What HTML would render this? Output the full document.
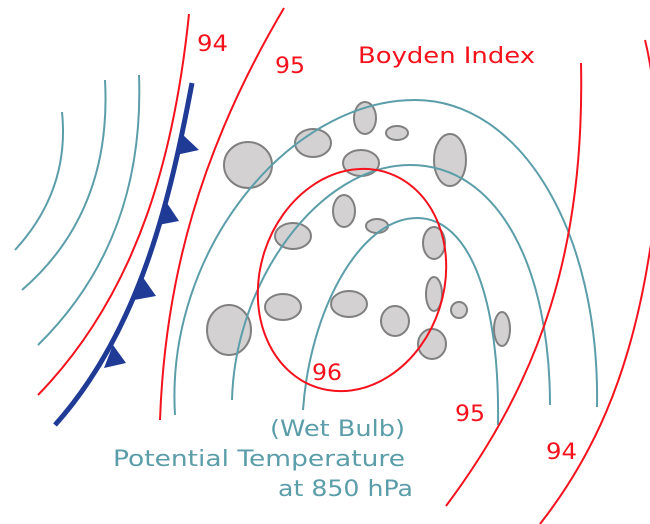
<!DOCTYPE html>
<html><head><meta charset="utf-8"><style>
html,body{margin:0;padding:0;background:#fff;}
svg{display:block;}
text{font-family:"DejaVu Sans","Liberation Sans",sans-serif;}
</style></head><body>
<svg width="650" height="524" viewBox="0 0 650 524" xmlns="http://www.w3.org/2000/svg">
<g fill="none" stroke="#5b9ea9" stroke-width="2">
<path d="M62,112 Q70,190 15,250"/>
<path d="M105,80 C110,170 80,240 22,290"/>
<path d="M139,75 Q145,240 38,345"/>
</g>
<g fill="#d3d1d2" stroke="#808080" stroke-width="2">
<ellipse cx="248" cy="165" rx="24" ry="23"/>
<ellipse cx="313" cy="143" rx="18" ry="14"/>
<ellipse cx="365" cy="118" rx="11" ry="16"/>
<ellipse cx="397" cy="133" rx="11" ry="7"/>
<ellipse cx="361" cy="163" rx="18" ry="13"/>
<ellipse cx="450" cy="160" rx="16" ry="26"/>
<ellipse cx="344" cy="211" rx="11" ry="16"/>
<ellipse cx="377" cy="226" rx="11" ry="7"/>
<ellipse cx="293" cy="236" rx="18" ry="13"/>
<ellipse cx="434" cy="243" rx="11" ry="16"/>
<ellipse cx="283" cy="307" rx="18" ry="13"/>
<ellipse cx="349" cy="304" rx="18" ry="13"/>
<ellipse cx="395" cy="321" rx="14" ry="15"/>
<ellipse cx="434" cy="294" rx="8" ry="17"/>
<ellipse cx="459" cy="310" rx="8" ry="8"/>
<ellipse cx="502" cy="329" rx="8" ry="17"/>
<ellipse cx="229" cy="330" rx="22" ry="25"/>
<ellipse cx="432" cy="344" rx="14" ry="15"/>
</g>
<g fill="none" stroke="#5b9ea9" stroke-width="2">
<path d="M175,415 C165,250 290,100 415,100 C520,100 600,230 597,407"/>
<path d="M232,400 C235,280 320,165 410,165 C500,165 550,270 550,405"/>
<path d="M303,410 C310,310 360,218 417,218 C470,218 500,300 498,425"/>
</g>
<g fill="none" stroke="#f5121c" stroke-width="2">
<path d="M189,14 C175,150 140,290 38,395"/>
<path d="M284,8 C200,150 165,280 160,420"/>
<path d="M581,63 C585,250 540,380 446,506"/>
<path d="M645,40 C660,100 660,200 650,250 C630,380 590,460 540,524"/>
<ellipse cx="352" cy="280" rx="92" ry="113" transform="rotate(18 352 280)"/>
</g>
<path d="M192,83 C170,200 140,330 55,425" fill="none" stroke="#1f3b96" stroke-width="5"/>
<g fill="#1f3b96">
<polygon points="181,133 199,150 176,155"/>
<polygon points="165,200 179,221 158,225"/>
<polygon points="142,276 156,296 134,300"/>
<polygon points="113,345 126,363 104,368"/>
</g>
<g fill="#f5121c" font-size="22">
<text x="197" y="51" textLength="31" lengthAdjust="spacingAndGlyphs">94</text>
<text x="275" y="73" textLength="30" lengthAdjust="spacingAndGlyphs">95</text>
<text x="358" y="63" textLength="177" lengthAdjust="spacingAndGlyphs">Boyden Index</text>
<text x="312" y="380" textLength="30" lengthAdjust="spacingAndGlyphs">96</text>
<text x="455" y="421" textLength="30" lengthAdjust="spacingAndGlyphs">95</text>
<text x="546" y="459" textLength="31" lengthAdjust="spacingAndGlyphs">94</text>
</g>
<g fill="#5b9ea9" font-size="22">
<text x="270" y="436" textLength="135" lengthAdjust="spacingAndGlyphs">(Wet Bulb)</text>
<text x="113" y="466" textLength="292" lengthAdjust="spacingAndGlyphs">Potential Temperature</text>
<text x="278" y="496" textLength="135" lengthAdjust="spacingAndGlyphs">at 850 hPa</text>
</g>
</svg>
</body></html>
